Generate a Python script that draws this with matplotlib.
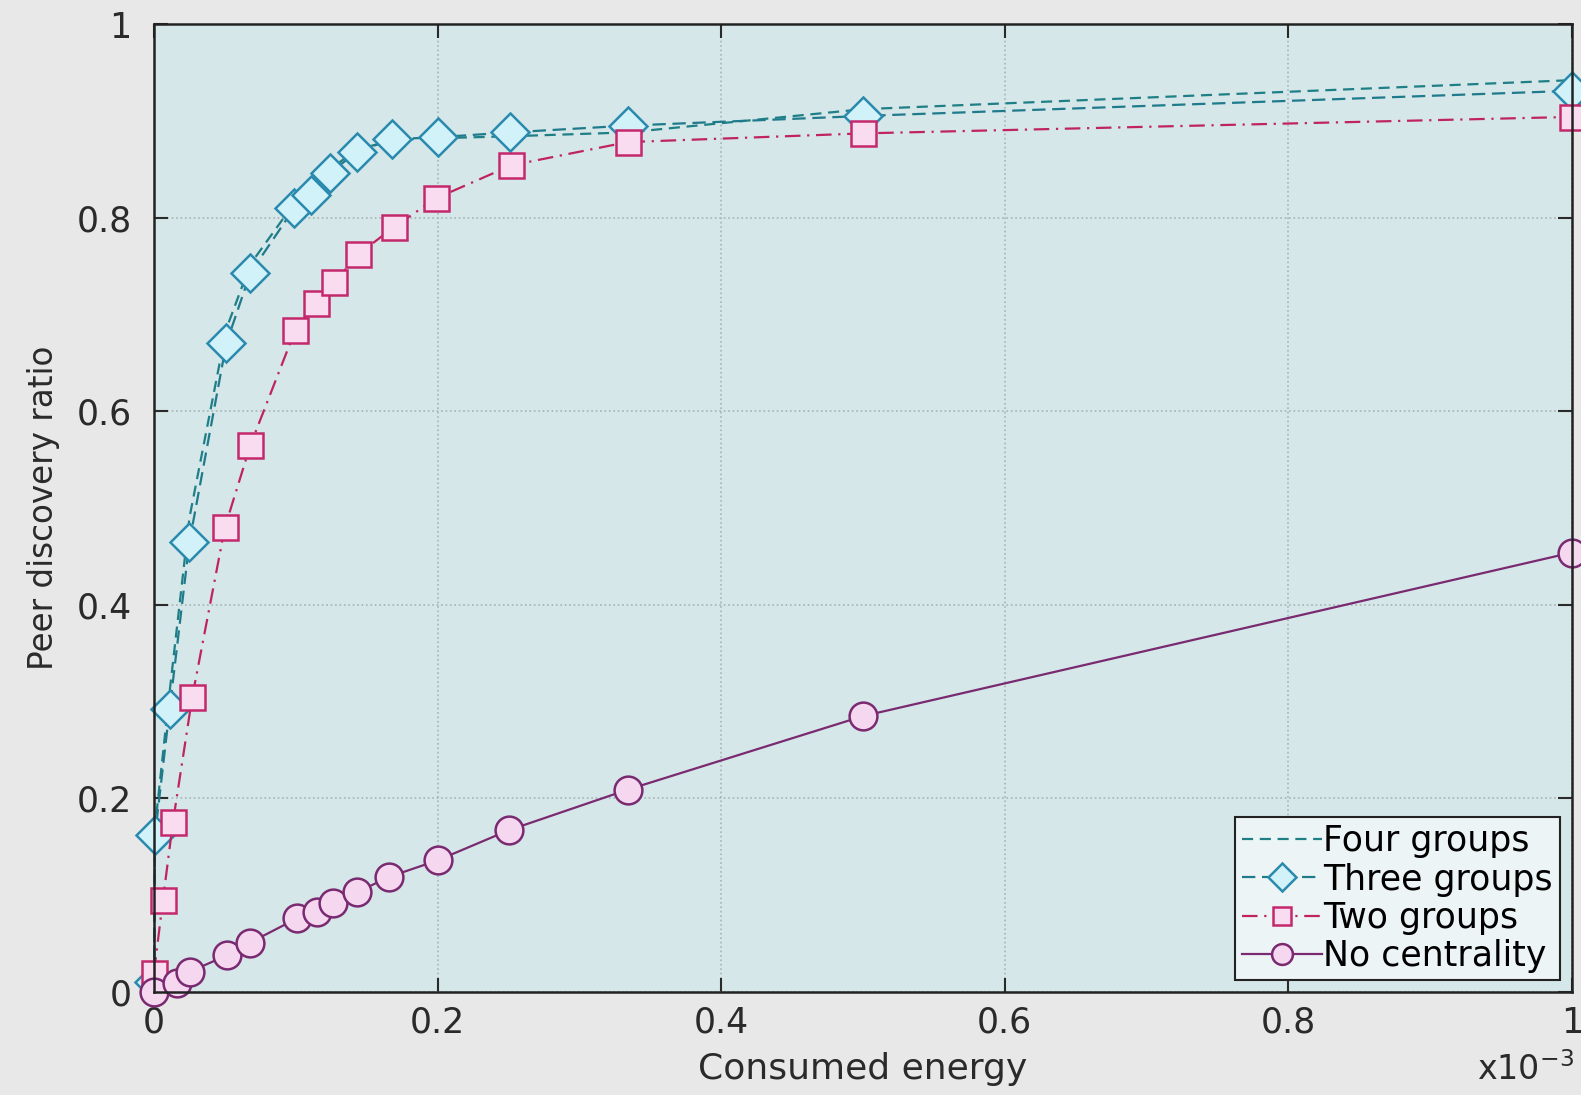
import matplotlib
matplotlib.use('Agg')
import matplotlib.pyplot as plt

# consumed energy (x1e-3) vs peer discovery ratio
x_four = [0, 0.0007, 0.011, 0.025, 0.051, 0.068, 0.099, 0.111, 0.124, 0.143, 0.168, 0.2, 0.251, 0.334, 0.5, 1.0]
y_four = [0.0, 0.17, 0.31, 0.49, 0.685, 0.752, 0.815, 0.83, 0.85, 0.87, 0.88, 0.882, 0.884, 0.888, 0.912, 0.942]

x_three = [0, 0.0007, 0.011, 0.025, 0.051, 0.068, 0.099, 0.111, 0.124, 0.143, 0.168, 0.2, 0.251, 0.334, 0.5, 1.0]
y_three = [0.01, 0.162, 0.292, 0.465, 0.670, 0.743, 0.810, 0.823, 0.846, 0.868, 0.881, 0.883, 0.888, 0.895, 0.905, 0.931]

x_two = [0, 0.0063, 0.0134, 0.027, 0.050, 0.068, 0.0997, 0.114, 0.127, 0.144, 0.169, 0.199, 0.252, 0.334, 0.5, 1.0]
y_two = [0.020, 0.095, 0.176, 0.305, 0.480, 0.565, 0.684, 0.712, 0.733, 0.762, 0.790, 0.820, 0.854, 0.878, 0.887, 0.904]

x_none = [0, 0.0162, 0.0254, 0.0515, 0.0677, 0.1008, 0.115, 0.126, 0.143, 0.166, 0.2, 0.25, 0.334, 0.5, 1.0]
y_none = [0.0, 0.009, 0.021, 0.038, 0.051, 0.076, 0.083, 0.092, 0.103, 0.119, 0.136, 0.167, 0.209, 0.285, 0.454]

ticks = [0, 0.2, 0.4, 0.6, 0.8, 1.0]
tick_labels = ['0', '0.2', '0.4', '0.6', '0.8', '1']

plt.rcParams['font.family'] = ['DejaVu Sans']

fig = plt.figure(figsize=(15.81, 10.95), dpi=100, facecolor='#e8e8e8')
ax = fig.add_axes([154 / 1581, 1 - 992 / 1095, 1418 / 1581, 968 / 1095])
ax.set_facecolor('#d5e7e8')

ax.plot(x_four, y_four, color='#1e7f86', lw=1.6, dashes=(5, 3),
        label='Four groups', clip_on=False)
ax.plot(x_three, y_three, color='#1f7a8c', lw=1.6, dashes=(6, 3),
        marker='D', ms=19, mec='#2a8aae', mfc='#d2f2fa', mew=1.8,
        label='Three groups', clip_on=False)
ax.plot(x_two, y_two, color='#c0245f', lw=1.6, dashes=(7, 3, 1, 3),
        marker='s', ms=18, mec='#c4286c', mfc='#f9dcef', mew=1.8,
        label='Two groups', clip_on=False)
ax.plot(x_none, y_none, color='#7a2a70', lw=1.6, ls='-',
        marker='o', ms=20, mec='#7a2a70', mfc='#f5d8f0', mew=1.8,
        label='No centrality', clip_on=False)

ax.set_xlim(0, 1)
ax.set_ylim(0, 1)
ax.set_xticks(ticks)
ax.set_xticklabels(tick_labels)
ax.set_yticks(ticks)
ax.set_yticklabels(tick_labels)
ax.tick_params(direction='in', length=10, width=1.5, top=True, right=True,
               labelsize=25, colors='#2a2a2a')
ax.tick_params(axis='x', pad=10)
ax.tick_params(axis='y', pad=16)
ax.grid(True, ls=':', color='#a8b4b6', lw=1.2)
for s in ax.spines.values():
    s.set_linewidth(1.8)
    s.set_color('#222222')

ax.set_xlabel('Consumed energy', fontsize=26, color='#2a2a2a', labelpad=9)
ax.set_ylabel('Peer discovery ratio', fontsize=23.5, color='#2a2a2a', labelpad=12)
fig.text(1574 / 1581, 8 / 1095, r'x10$^{-3}$', ha='right', va='bottom',
         fontsize=24, color='#2a2a2a')

leg = ax.legend(loc='lower right', fontsize=25, handlelength=2.3,
                handletextpad=0.05, borderpad=0.2, labelspacing=0.12,
                markerscale=0.75, fancybox=False, framealpha=1,
                borderaxespad=0.35)
leg.get_frame().set_edgecolor('#222222')
leg.get_frame().set_facecolor('#edf4f5')
leg.get_frame().set_linewidth(1.5)

fig.savefig('out.png', dpi=100, facecolor=fig.get_facecolor())
